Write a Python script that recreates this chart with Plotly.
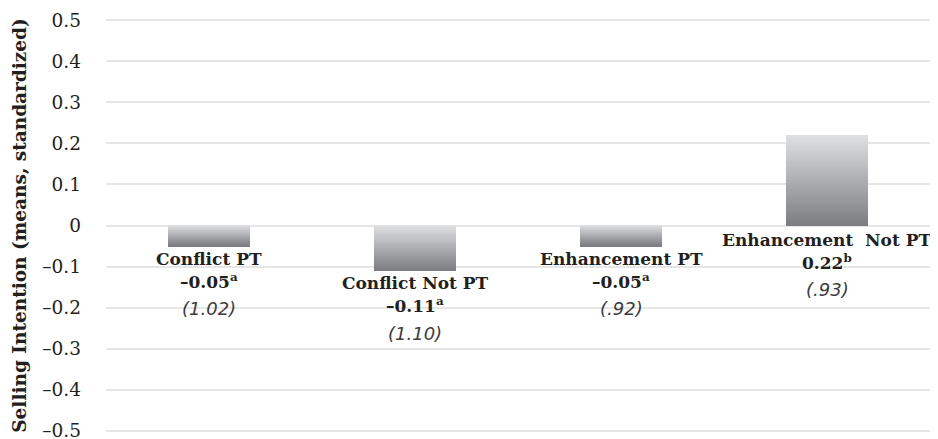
import plotly.graph_objects as go
import numpy as np

categories = ["Conflict PT", "Conflict Not PT", "Enhancement PT", "Enhancement  Not PT"]
means = [-0.05, -0.11, -0.05, 0.22]
mean_labels = ["–0.05", "–0.11", "–0.05", "0.22"]
superscripts = ["a", "a", "a", "b"]
sds = ["(1.02)", "(1.10)", "(.92)", "(.93)"]
tick_vals = [0.5, 0.4, 0.3, 0.2, 0.1, 0, -0.1, -0.2, -0.3, -0.4, -0.5]
tick_text = ["0.5", "0.4", "0.3", "0.2", "0.1", "0", "–0.1", "–0.2", "–0.3", "–0.4", "–0.5"]

SERIF = "DejaVu Serif"
N = 40
top_rgb = np.array([223, 224, 226])
bot_rgb = np.array([124, 125, 129])

fig = go.Figure()
x_idx = list(range(len(categories)))
vals = np.array(means)
hi = np.maximum(vals, 0)
h = np.abs(vals)
for i in range(N):
    t = (i + 0.5) / N
    c = top_rgb + (bot_rgb - top_rgb) * t
    color = "rgb(%d,%d,%d)" % tuple(c.round().astype(int))
    fig.add_trace(go.Bar(
        x=x_idx, y=h / N + 1e-9, base=hi - (i + 1) * h / N,
        width=0.4, marker=dict(color=color, line=dict(width=0)),
        showlegend=False, hoverinfo="skip"))

for k, v in enumerate(means):
    anchor_y = v if v < 0 else 0
    off = 12.5 if v < 0 else 14
    lines = [
        ("<b>%s</b>" % categories[k], dict(family=SERIF, size=17, color="#231f20"), 0),
        ("<b>%s<sup>%s</sup></b>" % (mean_labels[k], superscripts[k]), dict(family=SERIF, size=17, color="#231f20"), -3),
        ("<i>%s</i>" % sds[k], dict(family="DejaVu Sans", size=18, color="#3c3c3c"), 0),
    ]
    for j, (txt, f, adj) in enumerate(lines):
        fig.add_annotation(x=k, y=anchor_y, text=txt, showarrow=False,
                           xanchor="center", yanchor="middle",
                           yshift=-(off + 25 * j + adj),
                           font=f)

fig.update_layout(
    width=938, height=439,
    margin=dict(l=98, r=16, t=11, b=15, autoexpand=False),
    plot_bgcolor="white", paper_bgcolor="white",
    barmode="overlay", bargap=0,
    xaxis=dict(range=[-0.5, 3.5], showticklabels=False, showgrid=False,
               zeroline=False, tickvals=x_idx, automargin=False),
    yaxis=dict(range=[-0.503, 0.503], tickvals=tick_vals, ticktext=tick_text,
               automargin=False,
               showgrid=True, gridcolor="#e6e6e6", gridwidth=1.5,
               zeroline=True, zerolinecolor="#e6e6e6", zerolinewidth=1.5,
               tickfont=dict(family=SERIF, size=18.5, color="#231f20"),
               ticks="", ticklabelstandoff=24,
               title=dict(text="<b>Selling Intention (means, standardized)</b>",
                          font=dict(family=SERIF, size=18.5, color="#231f20"),
                          standoff=10)),
)

fig.write_html("out.html")
